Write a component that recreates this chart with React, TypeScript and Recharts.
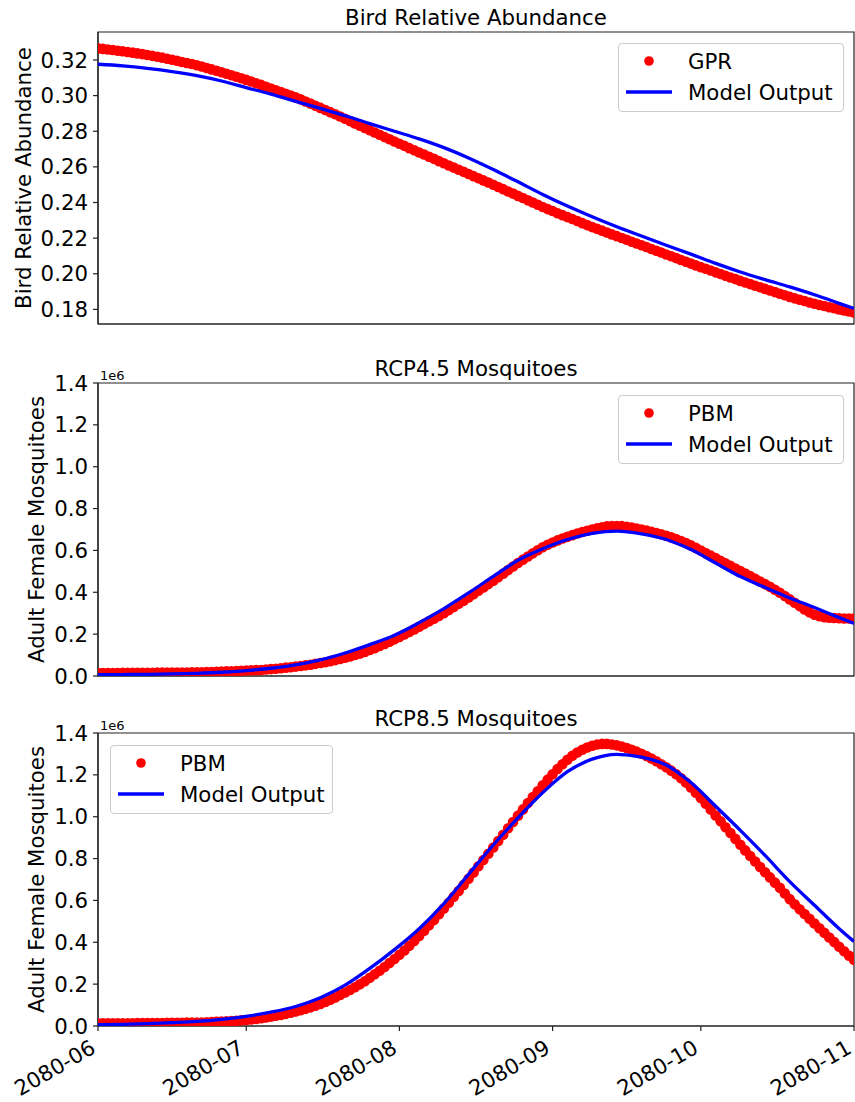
import React from "react";
import { ComposedChart, Scatter, XAxis, YAxis, ReferenceArea, Legend } from "recharts";

const tickDays = [0, 30, 61, 92, 122, 153];
const tickLabels = ["2080-06", "2080-07", "2080-08", "2080-09", "2080-10", "2080-11"];
const modelDays = [0, 5, 10, 15, 20, 25, 30, 35, 40, 45, 50, 55, 60, 65, 70, 75, 80, 85, 90, 95, 100, 105, 110, 115, 120, 125, 130, 135, 140, 145, 150, 153];

// daily points from 2080-06-01 to 2080-11-01
const birdGpr = [
  .3265, .3262, .3259, .3256, .3252, .3249, .3245, .3241, .3237, .3233,
  .3228, .3223, .3218, .3213, .3207, .3201, .3195, .3189, .3183, .3177,
  .3170, .3163, .3155, .3147, .3139, .3131, .3123, .3114, .3106, .3097,
  .3088, .3079, .3069, .3060, .3050, .3040, .3030, .3020, .3010, .3000,
  .2990, .2979, .2967, .2955, .2943, .2931, .2919, .2907, .2895, .2883,
  .2870, .2857, .2844, .2831, .2818, .2806, .2793, .2780, .2767, .2755,
  .2742, .2730, .2718, .2705, .2693, .2681, .2669, .2657, .2645, .2632,
  .2620, .2608, .2596, .2584, .2572, .2560, .2548, .2536, .2524, .2512,
  .2500, .2487, .2475, .2462, .2450, .2437, .2425, .2412, .2400, .2387,
  .2375, .2363, .2352, .2340, .2329, .2318, .2307, .2296, .2284, .2273,
  .2262, .2252, .2242, .2232, .2221, .2211, .2201, .2191, .2180, .2170,
  .2160, .2150, .2139, .2129, .2119, .2108, .2098, .2088, .2077, .2067,
  .2057, .2047, .2037, .2028, .2018, .2008, .1999, .1989, .1979, .1970,
  .1960, .1951, .1942, .1933, .1924, .1915, .1906, .1897, .1888, .1879,
  .1870, .1862, .1854, .1847, .1839, .1832, .1825, .1819, .1812, .1806,
  .1800, .1794, .1788, .1782,
];
const birdModel = [
  .3176, .3167, .3153, .3135, .3112, .3082, .3045, .3008, .2968, .2928, .2887,
  .2843, .2800, .2757, .2708, .2650, .2585, .2516, .2445, .2380, .2320,
  .2264, .2212, .2160, .2110, .2058, .2010, .1967, .1926, .1882, .1834, .1805,
];

// mosquitoes, in units of 1e6
const rcp45Pbm = [
  .014, .014, .014, .014, .014, .015, .015, .015, .015, .015,
  .015, .015, .016, .016, .016, .016, .017, .017, .017, .018,
  .018, .018, .019, .019, .020, .021, .022, .023, .024, .025,
  .026, .027, .028, .029, .031, .033, .035, .037, .040, .042,
  .045, .048, .051, .054, .058, .062, .066, .071, .076, .081,
  .087, .093, .100, .107, .115, .124, .133, .143, .153, .164,
  .175, .186, .198, .210, .222, .235, .248, .261, .274, .287,
  .300, .315, .330, .345, .360, .375, .391, .407, .423, .439,
  .455, .472, .489, .506, .523, .540, .556, .571, .586, .601,
  .615, .627, .638, .648, .657, .665, .673, .681, .688, .694,
  .700, .706, .711, .715, .717, .717, .716, .713, .709, .704,
  .700, .695, .689, .683, .677, .670, .663, .654, .645, .635,
  .624, .612, .600, .587, .575, .563, .550, .538, .526, .514,
  .502, .490, .477, .464, .451, .439, .426, .412, .398, .382,
  .366, .350, .334, .318, .304, .293, .286, .281, .278, .277,
  .276, .275, .275, .274,
];
const rcp45Model = [
  .006, .007, .008, .010, .013, .018, .026, .037, .053, .077, .110,
  .150, .195, .255, .322, .397, .476, .553, .608, .652, .681,
  .692, .679, .652, .604, .540, .475, .423, .373, .327, .279, .251,
];

const rcp85Pbm = [
  .013, .013, .013, .013, .013, .013, .013, .013, .014, .014,
  .014, .014, .014, .014, .015, .015, .015, .015, .016, .016,
  .017, .017, .018, .019, .020, .021, .022, .024, .025, .027,
  .029, .031, .034, .037, .041, .045, .049, .053, .058, .063,
  .069, .075, .082, .089, .097, .105, .115, .125, .136, .148,
  .160, .172, .185, .199, .214, .230, .247, .264, .282, .301,
  .320, .340, .361, .383, .406, .430, .455, .481, .507, .534,
  .561, .589, .617, .645, .674, .703, .733, .763, .793, .823,
  .853, .884, .914, .945, .975, 1.005, 1.035, 1.065, 1.094, 1.122,
  1.150, 1.177, 1.203, 1.228, 1.251, 1.272, 1.291, 1.307, 1.320, 1.331,
  1.339, 1.345, 1.348, 1.348, 1.345, 1.341, 1.335, 1.328, 1.320, 1.311,
  1.301, 1.290, 1.278, 1.265, 1.251, 1.236, 1.220, 1.203, 1.184, 1.163,
  1.140, 1.115, 1.089, 1.062, 1.034, 1.006, .978, .950, .922, .894,
  .866, .839, .812, .786, .760, .735, .710, .685, .660, .633,
  .606, .582, .558, .535, .512, .490, .467, .445, .423, .401,
  .379, .357, .336, .316,
];
const rcp85Model = [
  .006, .008, .011, .016, .022, .032, .046, .066, .093, .135, .195,
  .275, .365, .465, .585, .725, .865, .995, 1.115, 1.215, 1.275,
  1.298, 1.285, 1.247, 1.163, 1.050, .935, .815, .690, .577, .465, .404,
];

const birdTicks = [0.18, 0.2, 0.22, 0.24, 0.26, 0.28, 0.3, 0.32];
const mosqTicks = [0, 0.2, 0.4, 0.6, 0.8, 1.0, 1.2, 1.4];

const font = "'DejaVu Sans', sans-serif";
const FS = 21.3;
const W = 855;

const daily = (vals: number[]) => vals.map((v, i) => ({ day: i, v }));
const sampled = (vals: number[]) => vals.map((v, i) => ({ day: modelDays[i], v }));

const RedDot = (p: any) => <circle cx={p.cx} cy={p.cy} r={5.3} fill="#ff0000" />;
const NoDot = () => <g />;

const DateTick = ({ x, y, payload }: any) => (
  <text
    x={0}
    y={0}
    transform={`translate(${x - 1},${y + 21}) rotate(-30)`}
    textAnchor="end"
    fontSize={FS}
    fontFamily={font}
    fill="#000"
  >
    {tickLabels[tickDays.indexOf(payload.value)]}
  </text>
);

const LegendBox = ({ redName, width }: { redName: string; width: number }) => (
  <div
    style={{
      width,
      height: 69,
      boxSizing: "border-box",
      border: "1px solid #cccccc",
      borderRadius: 4,
      background: "rgba(255,255,255,0.8)",
      position: "relative",
    }}
  >
    <svg width={width} height={69} style={{ position: "absolute", left: -1, top: -1 }}>
      <circle cx={31} cy={18} r={4.8} fill="#ff0000" />
      <line x1={8} x2={54} y1={49} y2={49} stroke="#0000ff" strokeWidth={3.3} />
      <text x={70} y={25.5} fontSize={FS} fontFamily={font} fill="#000">{redName}</text>
      <text x={70} y={56.5} fontSize={FS} fontFamily={font} fill="#000">Model Output</text>
    </svg>
  </div>
);

type PanelProps = {
  top: number;
  height: number;
  marginTop: number;
  marginBottom: number;
  xHeight: number;
  domain: [number, number];
  ticks: number[];
  digits: number;
  yTitle: string;
  yTitleX: number;
  red: { day: number; v: number }[];
  blue: { day: number; v: number }[];
  redName: string;
  legendLeft: number;
  legendTop: number;
  legendWidth: number;
  dates: boolean;
};

function Panel(p: PanelProps) {
  const plotH = p.height - p.marginTop - p.marginBottom - p.xHeight;
  const cy = p.marginTop + plotH / 2;
  return (
    <div style={{ position: "absolute", left: 0, top: p.top }}>
      <ComposedChart
        width={W}
        height={p.height}
        margin={{ top: p.marginTop, right: 1, bottom: p.marginBottom, left: 8 }}
      >
        <XAxis
          dataKey="day"
          type="number"
          domain={[0, 153]}
          ticks={tickDays}
          allowDataOverflow
          height={p.xHeight}
          tickSize={5}
          tickMargin={0}
          interval={0}
          stroke="#222"
          axisLine={{ stroke: "#222", strokeWidth: 1.2 }}
          tickLine={{ stroke: "#222", strokeWidth: 1.2 }}
          tick={p.dates ? <DateTick /> : false}
        />
        <YAxis
          dataKey="v"
          type="number"
          domain={p.domain}
          ticks={p.ticks}
          allowDataOverflow
          width={90}
          tickSize={5}
          tickMargin={5}
          interval={0}
          tickFormatter={(v: number) => v.toFixed(p.digits)}
          axisLine={{ stroke: "#222", strokeWidth: 1.2 }}
          tickLine={{ stroke: "#222", strokeWidth: 1.2 }}
          tick={{ fontSize: FS, fill: "#000", fontFamily: font }}
          label={{
            content: () => (
              <text
                x={p.yTitleX}
                y={cy}
                transform={`rotate(-90, ${p.yTitleX}, ${cy})`}
                textAnchor="middle"
                fontSize={FS}
                fontFamily={font}
                fill="#000"
              >
                {p.yTitle}
              </text>
            ),
          }}
        />
        <Scatter
          name={p.redName}
          data={p.red}
          dataKey="v"
          fill="#ff0000"
          shape={RedDot}
          isAnimationActive={false}
        />
        {/* model output drawn as a connected scatter so it sits above the dots */}
        <Scatter
          name="Model Output"
          data={p.blue}
          dataKey="v"
          fill="#0000ff"
          line={{ stroke: "#0000ff", strokeWidth: 3.3 }}
          lineType="joint"
          lineJointType="monotoneX"
          shape={NoDot}
          isAnimationActive={false}
        />
        <ReferenceArea
          x1={0}
          x2={153}
          y1={p.domain[0]}
          y2={p.domain[1]}
          fill="none"
          stroke="#222"
          strokeWidth={1.2}
          ifOverflow="visible"
        />
        <Legend
          layout="vertical"
          align="center"
          verticalAlign="middle"
          content={() => <LegendBox redName={p.redName} width={p.legendWidth} />}
          wrapperStyle={{ position: "absolute", left: p.legendLeft, top: p.legendTop, width: p.legendWidth, height: 69 }}
        />
      </ComposedChart>
    </div>
  );
}

export default function App() {
  return (
    <div style={{ position: "absolute", left: 0, top: 0, width: W, height: 1102, background: "#fff", fontFamily: font }}>
      <Panel
        top={0}
        height={340}
        marginTop={32}
        marginBottom={6}
        xHeight={10}
        domain={[0.1718, 0.3357]}
        ticks={birdTicks}
        digits={2}
        yTitle="Bird Relative Abundance"
        yTitleX={31}
        red={daily(birdGpr)}
        blue={sampled(birdModel)}
        redName="GPR"
        legendLeft={618}
        legendTop={43}
        legendWidth={226}
        dates={false}
      />
      <Panel
        top={340}
        height={350}
        marginTop={43}
        marginBottom={4}
        xHeight={10}
        domain={[0, 1.4]}
        ticks={mosqTicks}
        digits={1}
        yTitle="Adult Female Mosquitoes"
        yTitleX={44}
        red={daily(rcp45Pbm)}
        blue={sampled(rcp45Model)}
        redName="PBM"
        legendLeft={618}
        legendTop={55}
        legendWidth={226}
        dates={false}
      />
      <Panel
        top={690}
        height={412}
        marginTop={43}
        marginBottom={6}
        xHeight={70}
        domain={[0, 1.4]}
        ticks={mosqTicks}
        digits={1}
        yTitle="Adult Female Mosquitoes"
        yTitleX={44}
        red={daily(rcp85Pbm)}
        blue={sampled(rcp85Model)}
        redName="PBM"
        legendLeft={110}
        legendTop={55}
        legendWidth={223}
        dates={true}
      />
      <svg width={W} height={1102} style={{ position: "absolute", left: 0, top: 0, pointerEvents: "none" }}>
        <g fontFamily={font} fill="#000">
          <text x={476} y={25} textAnchor="middle" fontSize={FS}>Bird Relative Abundance</text>
          <text x={476} y={376} textAnchor="middle" fontSize={FS}>RCP4.5 Mosquitoes</text>
          <text x={476} y={726} textAnchor="middle" fontSize={FS}>RCP8.5 Mosquitoes</text>
          <text x={100} y={380} fontSize={13}>1e6</text>
          <text x={100} y={730} fontSize={13}>1e6</text>
        </g>
      </svg>
    </div>
  );
}
